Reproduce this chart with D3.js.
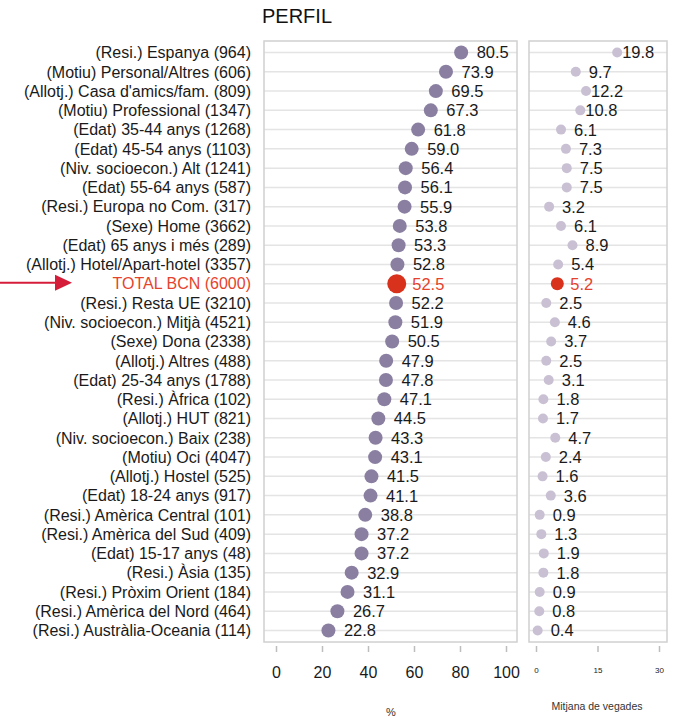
<!DOCTYPE html>
<html>
<head>
<meta charset="utf-8">
<script src="https://cdn.jsdelivr.net/npm/d3@7"></script>
<style>
  body { margin: 0; background: #fff; }
  svg { font-family: "Liberation Sans", Arial, sans-serif; }
</style>
</head>
<body>
<div id="chart"></div>
<script>
// categories, top to bottom
const categories = [
  "(Resi.) Espanya (964)", "(Motiu) Personal/Altres (606)", "(Allotj.) Casa d'amics/fam. (809)",
  "(Motiu) Professional (1347)", "(Edat) 35-44 anys (1268)", "(Edat) 45-54 anys (1103)",
  "(Niv. socioecon.) Alt (1241)", "(Edat) 55-64 anys (587)", "(Resi.) Europa no Com. (317)",
  "(Sexe) Home (3662)", "(Edat) 65 anys i més (289)", "(Allotj.) Hotel/Apart-hotel (3357)",
  "TOTAL BCN (6000)", "(Resi.) Resta UE (3210)", "(Niv. socioecon.) Mitjà (4521)",
  "(Sexe) Dona (2338)", "(Allotj.) Altres (488)", "(Edat) 25-34 anys (1788)",
  "(Resi.) Àfrica (102)", "(Allotj.) HUT (821)", "(Niv. socioecon.) Baix (238)",
  "(Motiu) Oci (4047)", "(Allotj.) Hostel (525)", "(Edat) 18-24 anys (917)",
  "(Resi.) Amèrica Central (101)", "(Resi.) Amèrica del Sud (409)", "(Edat) 15-17 anys (48)",
  "(Resi.) Àsia (135)", "(Resi.) Pròxim Orient (184)", "(Resi.) Amèrica del Nord (464)",
  "(Resi.) Austràlia-Oceania (114)"
];
// percentage (left panel)
const percent = [
  80.5, 73.9, 69.5, 67.3, 61.8, 59.0, 56.4, 56.1, 55.9, 53.8, 53.3, 52.8, 52.5, 52.2, 51.9,
  50.5, 47.9, 47.8, 47.1, 44.5, 43.3, 43.1, 41.5, 41.1, 38.8, 37.2, 37.2, 32.9, 31.1, 26.7, 22.8
];
// mean number of times (right panel)
const mitjana = [
  19.8, 9.7, 12.2, 10.8, 6.1, 7.3, 7.5, 7.5, 3.2, 6.1, 8.9, 5.4, 5.2, 2.5, 4.6,
  3.7, 2.5, 3.1, 1.8, 1.7, 4.7, 2.4, 1.6, 3.6, 0.9, 1.3, 1.9, 1.8, 0.9, 0.8, 0.4
];
const pctTicks = [0, 20, 40, 60, 80, 100];
const mitTicks = [0, 15, 30];
const totalLabel = "TOTAL BCN (6000)";

const width = 674, height = 718;
const red = "#d8321c", redText = "#e5432d";

let data = categories.map((c, i) => ({cat: c, pct: percent[i], mit: mitjana[i]}));

let svg = d3.select("#chart").append("svg")
    .attr("width", width)
    .attr("height", height);

// panels
let leftPanel = {x0: 264, x1: 517}, rightPanel = {x0: 529, x1: 667};
let plotTop = 41, plotBottom = 642;

let y = d3.scalePoint().domain(categories).range([plotTop, plotBottom]).padding(0.6);
let xL = d3.scaleLinear().domain([0, 100]).range([276, 506]);
let xR = d3.scaleLinear().domain([0, 30]).range([536, 659]);

// title
svg.append("text")
    .attr("x", 297).attr("y", 23)
    .attr("text-anchor", "middle")
    .style("font-size", "20px")
    .attr("fill", "#111")
    .text("PERFIL");

function panel(p, x, key, r, rTotal, fill, labelDx, smallLabels) {
  let g = svg.append("g");
  // grid lines
  g.selectAll("line.grid").data(categories).enter().append("line")
      .attr("x1", p.x0).attr("x2", p.x1)
      .attr("y1", d => y(d)).attr("y2", d => y(d))
      .attr("stroke", "#e4e4e4").attr("stroke-width", 1.5);
  // frame
  g.append("rect")
      .attr("x", p.x0).attr("y", plotTop)
      .attr("width", p.x1 - p.x0).attr("height", plotBottom - plotTop)
      .attr("fill", "none").attr("stroke", "#d0d0d0").attr("stroke-width", 1.5);
  // dots
  g.selectAll("circle").data(data).enter().append("circle")
      .attr("cx", d => x(d[key]))
      .attr("cy", d => y(d.cat))
      .attr("r", d => d.cat == totalLabel ? rTotal : r)
      .attr("fill", d => d.cat == totalLabel ? red : fill);
  // value labels
  g.selectAll("text.val").data(data).enter().append("text")
      .attr("x", d => x(d[key]) + labelDx(d[key]))
      .attr("y", d => y(d.cat))
      .attr("dy", "0.36em")
      .style("font-size", "16.5px")
      .attr("fill", d => d.cat == totalLabel ? redText : "#1a1a1a")
      .text(d => d[key].toFixed(1));
  // axis
  let axis = svg.append("g")
      .attr("transform", "translate(0," + (plotBottom + 4) + ")")
      .call((smallLabels ? d3.axisBottom(x).tickValues(mitTicks) : d3.axisBottom(x).tickValues(pctTicks))
        .tickSize(6).tickPadding(smallLabels ? 15 : 15).tickFormat(d3.format("d")));
  axis.select(".domain").remove();
  axis.selectAll(".tick line").attr("stroke", "#bdbdbd").attr("stroke-width", 1.5);
  axis.selectAll(".tick text")
      .attr("fill", "#1a1a1a")
      .style("font-size", smallLabels ? "8px" : "16px")
      .attr("font-family", "Liberation Sans, Arial, sans-serif");
}

panel(leftPanel, xL, "pct", 7, 9.5, "#8a7fa0", v => 15.5, false);
panel(rightPanel, xR, "mit", 5, 6.5, "#c9c1d3", v => v < 10 ? 13 : 5, true);

// category labels
svg.append("g").selectAll("text").data(categories).enter().append("text")
    .attr("x", 251)
    .attr("y", d => y(d))
    .attr("dy", "0.36em")
    .attr("text-anchor", "end")
    .style("font-size", "16px")
    .attr("fill", d => d == totalLabel ? redText : "#1a1a1a")
    .text(d => d);

// axis titles
svg.append("text")
    .attr("x", (xL(0) + xL(100)) / 2).attr("y", 716)
    .attr("text-anchor", "middle")
    .style("font-size", "11px")
    .attr("fill", "#333")
    .text("%");
svg.append("text")
    .attr("x", 597).attr("y", 710)
    .attr("text-anchor", "middle")
    .style("font-size", "10.5px")
    .attr("fill", "#333")
    .text("Mitjana de vegades");

// arrow pointing at the total
let ay = y(totalLabel) - 1;
svg.append("line")
    .attr("x1", 0).attr("x2", 58)
    .attr("y1", ay).attr("y2", ay)
    .attr("stroke", "#d51d3a").attr("stroke-width", 2);
svg.append("path")
    .attr("d", d3.line()([[55, ay - 8], [72, ay], [55, ay + 8]]) + "Z")
    .attr("fill", "#d51d3a");
</script>
</body>
</html>
